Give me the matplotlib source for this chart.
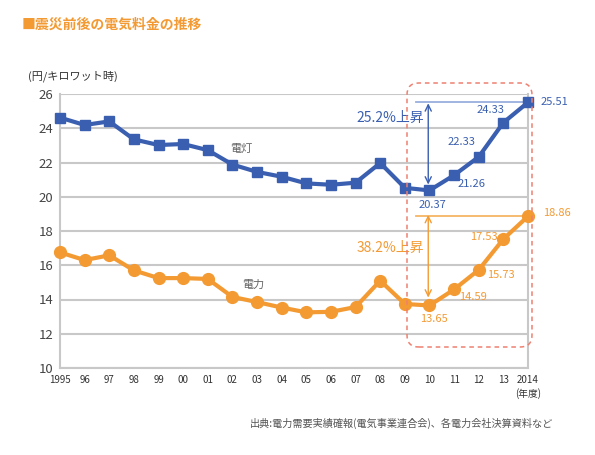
import matplotlib
matplotlib.use("Agg")
import matplotlib.pyplot as plt
from matplotlib.patches import FancyBboxPatch

plt.rcParams['font.family'] = ['Noto Sans CJK JP', 'DejaVu Sans']

# data
years = list(range(1995, 2015))
xlabels = ['1995', '96', '97', '98', '99', '00', '01', '02', '03', '04',
           '05', '06', '07', '08', '09', '10', '11', '12', '13', '2014\n(年度)']
dento = [24.62, 24.19, 24.40, 23.35, 23.02, 23.08, 22.72, 21.88, 21.45, 21.17,
         20.78, 20.70, 20.82, 21.97, 20.52, 20.37, 21.26, 22.33, 24.33, 25.51]
denryoku = [16.75, 16.30, 16.58, 15.70, 15.25, 15.25, 15.20, 14.15, 13.85, 13.53,
            13.25, 13.28, 13.56, 15.10, 13.74, 13.65, 14.59, 15.73, 17.53, 18.86]

BLUE = '#3a5fb0'
ORANGE = '#f39a33'
GRID = '#c8c8c8'

fig = plt.figure(figsize=(5.95, 4.55), dpi=100)
ax = fig.add_axes([60/595, 1-368/455, 468/595, 274/455])

ax.set_xlim(1995, 2014)
ax.set_ylim(10, 26)
ax.set_yticks(range(10, 27, 2))
ax.set_xticks(years)
ax.set_xticklabels(xlabels, fontsize=7, color='#333333', linespacing=1.3)
ax.tick_params(axis='y', labelsize=9.5, colors='#444444', length=0, pad=5)
ax.tick_params(axis='x', length=0, pad=5)
ax.grid(axis='y', color=GRID, lw=1.5)
ax.set_axisbelow(True)
for s in ['left', 'bottom', 'right']:
    ax.spines[s].set_color(GRID)
    ax.spines[s].set_linewidth(1.5)
ax.spines['top'].set_visible(False)

# bracket lines / arrows
ax.plot([2009.45, 2014], [25.51, 25.51], color='#9aaede', lw=1.3, zorder=2)
ax.plot([2009.45, 2014], [18.86, 18.86], color='#f7b566', lw=1.3, zorder=2)
ax.annotate('', xy=(2009.95, 25.62), xytext=(2009.95, 20.55),
            arrowprops=dict(arrowstyle='<->,head_length=0.45,head_width=0.22', color=BLUE, lw=1))
ax.annotate('', xy=(2009.95, 19.1), xytext=(2009.95, 13.95),
            arrowprops=dict(arrowstyle='<->,head_length=0.45,head_width=0.22', color=ORANGE, lw=1))

ax.plot(years, dento, color=BLUE, lw=3, marker='s', ms=7.5, zorder=4, clip_on=False)
ax.plot(years, denryoku, color=ORANGE, lw=3, marker='o', ms=8.5, zorder=4, clip_on=False)

ax.text(2008.4, 24.6, '25.2%上昇', color=BLUE, fontsize=10, ha='center', va='center')
ax.text(2008.4, 17.0, '38.2%上昇', color=ORANGE, fontsize=10, ha='center', va='center')
ax.text(2002.35, 22.8, '電灯', color='#666666', fontsize=8, ha='center', va='center')
ax.text(2002.85, 14.85, '電力', color='#666666', fontsize=8, ha='center', va='center')

# value labels: (year index, series, offset px, ha)
blue_lbl = [(19, (13, 0), 'left'), (18, (1, 13), 'right'), (17, (-3, 15), 'right'),
            (16, (3, -9), 'left'), (15, (3, -15), 'center')]
orange_lbl = [(19, (15, 3), 'left'), (18, (-6, 2), 'right'), (17, (8, -5), 'left'),
              (16, (5, -8), 'left'), (15, (4, -14), 'center')]
for i, off, ha in blue_lbl:
    ax.annotate(f'{dento[i]:.2f}', (years[i], dento[i]), xytext=off, textcoords='offset pixels',
                ha=ha, va='center', fontsize=8, color=BLUE, annotation_clip=False)
for i, off, ha in orange_lbl:
    ax.annotate(f'{denryoku[i]:.2f}', (years[i], denryoku[i]), xytext=off, textcoords='offset pixels',
                ha=ha, va='center', fontsize=8, color=ORANGE, annotation_clip=False)

# dashed highlight box
box = FancyBboxPatch((407/595, 1-347/455), 125/595, 264/455,
                     boxstyle='round,pad=0,rounding_size=0.02', mutation_aspect=595/455,
                     transform=fig.transFigure, fill=False, edgecolor='#ee8070',
                     lw=1.1, linestyle=(0, (3, 2.5)), zorder=1)
fig.patches.append(box)

fig.text(22/595, 1-25/455, '■震災前後の電気料金の推移', color=ORANGE, fontsize=10,
         fontweight='bold', va='center')
fig.text(28/595, 1-76/455, '(円/キロワット時)', color='#333333', fontsize=8, va='center')
fig.text(553/595, 1-423/455, '出典:電力需要実績確報(電気事業連合会)、各電力会社決算資料など',
         color='#555555', fontsize=7.3, ha='right', va='center')

fig.savefig('out.png', dpi=100)
